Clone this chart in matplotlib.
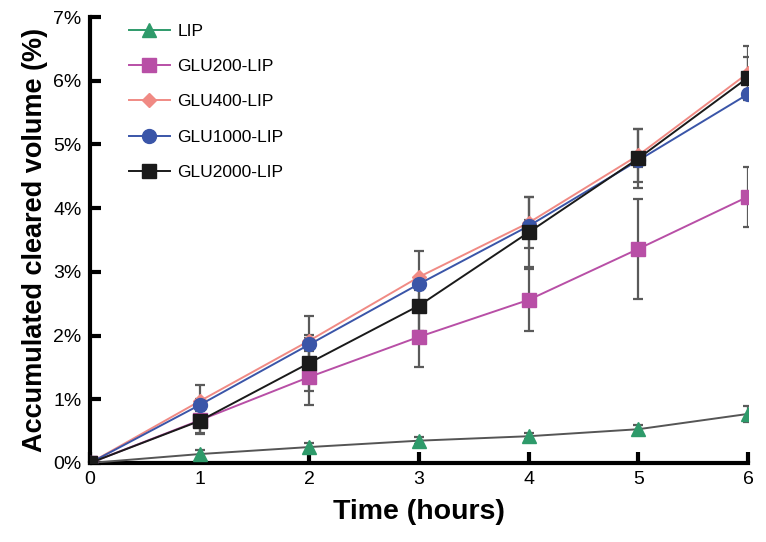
import matplotlib
matplotlib.use("Agg")
import matplotlib.pyplot as plt
from matplotlib.lines import Line2D

time_h = [0, 1, 2, 3, 4, 5, 6]
series_names = ["LIP", "GLU200-LIP", "GLU400-LIP", "GLU1000-LIP", "GLU2000-LIP"]
lip = [0.0, 0.14, 0.25, 0.35, 0.42, 0.53, 0.77]
lip_err = [0.0, 0.07, 0.07, 0.05, 0.05, 0.06, 0.12]
glu200 = [0.0, 0.67, 1.35, 1.98, 2.56, 3.36, 4.18]
glu200_err = [0.0, 0.2, 0.44, 0.48, 0.49, 0.79, 0.47]
glu400 = [0.0, 0.97, 1.92, 2.92, 3.77, 4.83, 6.12]
glu400_err = [0.0, 0.25, 0.38, 0.40, 0.40, 0.42, 0.43]
glu1000 = [0.0, 0.91, 1.86, 2.81, 3.72, 4.75, 5.79]
glu1000_err = [0.0, 0.1, 0.1, 0.1, 0.1, 0.1, 0.06]
glu2000 = [0.0, 0.66, 1.57, 2.47, 3.62, 4.78, 6.05]
glu2000_err = [0.0, 0.2, 0.44, 0.40, 0.55, 0.47, 0.32]

font = 'Liberation Sans'

fig = plt.figure(figsize=(7.66, 5.42), dpi=100)
ax = fig.add_axes([0.1175, 0.1458, 0.859, 0.8228])

err_color = '#5a5a5a'
styles = [
    (lip, lip_err, '#555555', '^', '#2e9a6a', 10),
    (glu200, glu200_err, '#b84fa6', 's', '#b84fa6', 10),
    (glu400, glu400_err, '#f08a84', 'D', '#f08a84', 7.5),
    (glu1000, glu1000_err, '#3a55a8', 'o', '#3a55a8', 10),
    (glu2000, glu2000_err, '#1a1a1a', 's', '#1a1a1a', 10),
]
for vals, errs, lc, m, mc, ms in styles:
    ax.errorbar(time_h, vals, yerr=errs, fmt='none', ecolor=err_color,
                elinewidth=1.6, capsize=3.5, capthick=1.6, zorder=2)
for vals, errs, lc, m, mc, ms in styles:
    ax.plot(time_h, vals, color=lc, lw=1.4, marker=m, markersize=ms,
            markerfacecolor=mc, markeredgecolor=mc, zorder=3)

legend_colors = ['#2e9a6a', '#b84fa6', '#f08a84', '#3a55a8', '#1a1a1a']
handles = [Line2D([], [], color=c, lw=1.4, marker=s[3], markersize=s[5],
                  markerfacecolor=c, markeredgecolor=c)
           for c, s in zip(legend_colors, styles)]
ax.legend(handles, series_names, loc='upper left', bbox_to_anchor=(0.035, 1.02),
          frameon=False, prop={'family': font, 'size': 12.5},
          labelspacing=1.16, handlelength=2.4, handletextpad=0.4)

ax.set_xlim(0, 6)
ax.set_ylim(0, 7)
ax.set_xticks(time_h)
ax.set_yticks(range(0, 8))
ax.set_yticklabels([f"{i}%" for i in range(0, 8)])
for sp in ['top', 'right']:
    ax.spines[sp].set_visible(False)
for sp in ['left', 'bottom']:
    ax.spines[sp].set_linewidth(3)
ax.tick_params(direction='in', length=8, width=3, labelsize=14, pad=6)
for lab in ax.get_xticklabels() + ax.get_yticklabels():
    lab.set_family(font)
ax.set_xlabel("Time (hours)", fontsize=20.5, fontweight='bold', family=font, labelpad=8)
ax.set_ylabel("Accumulated cleared volume (%)", fontsize=19.5, fontweight='bold',
              family=font, labelpad=4)

fig.savefig("out.png", dpi=100)
